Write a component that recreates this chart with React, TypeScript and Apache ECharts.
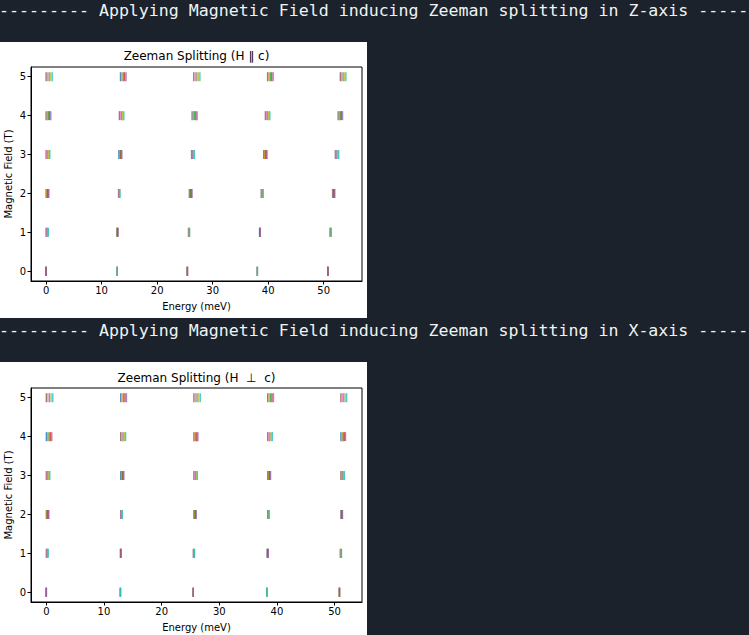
import React, { useEffect, useRef } from "react";
import * as echarts from "echarts";

// ---------- data ----------
const FIELDS_T = [0, 1, 2, 3, 4, 5];
const X_TICKS = [0, 10, 20, 30, 40, 50];
const Y_TICKS = [0, 1, 2, 3, 4, 5];

const HEADER_Z = "--------- Applying Magnetic Field inducing Zeeman splitting in Z-axis -----";
const HEADER_X = "--------- Applying Magnetic Field inducing Zeeman splitting in X-axis -----";
const TITLE_Z = "Zeeman Splitting (H \u2225 c)";
const TITLE_X = "Zeeman Splitting (H  \u22A5  c)";
const X_NAME = "Energy (meV)";
const Y_NAME = "Magnetic Field (T)";

// H || c : energies (meV) of the 25 levels, 5 clusters x 5 lines, per field value
const zAt0T = [
  [0, 0, 0, 0, 0],
  [12.8, 12.8, 12.8, 12.8, 12.8],
  [25.45, 25.45, 25.45, 25.45, 25.45],
  [38.05, 38.05, 38.05, 38.05, 38.05],
  [50.75, 50.75, 50.75, 50.75, 50.75],
];
const zAt1T = [
  [0, 0.1, 0.2, 0.3, 0.4],
  [12.75, 12.8, 12.85, 12.9, 12.95],
  [25.65, 25.7, 25.75, 25.8, 25.85],
  [38.45, 38.48, 38.5, 38.53, 38.56],
  [51.15, 51.2, 51.25, 51.3, 51.35],
];
const zAt2T = [
  [0, 0.12, 0.25, 0.37, 0.5],
  [13.05, 13.12, 13.18, 13.25, 13.3],
  [25.8, 25.95, 26.05, 26.15, 26.3],
  [38.75, 38.85, 38.95, 39.05, 39.1],
  [51.6, 51.7, 51.8, 51.9, 52.0],
];
const zAt3T = [
  [0, 0.17, 0.34, 0.5, 0.66],
  [13.1, 13.25, 13.4, 13.52, 13.65],
  [26.2, 26.35, 26.45, 26.58, 26.7],
  [39.2, 39.35, 39.5, 39.65, 39.8],
  [52.1, 52.25, 52.4, 52.55, 52.7],
];
const zAt4T = [
  [0, 0.2, 0.42, 0.62, 0.84],
  [13.2, 13.42, 13.62, 13.8, 14.0],
  [26.3, 26.52, 26.75, 26.98, 27.2],
  [39.5, 39.7, 39.9, 40.1, 40.3],
  [52.6, 52.8, 53.0, 53.2, 53.4],
];
const zAt5T = [
  [0, 0.27, 0.55, 0.82, 1.1],
  [13.4, 13.65, 13.9, 14.15, 14.4],
  [26.6, 26.88, 27.15, 27.42, 27.7],
  [39.9, 40.15, 40.4, 40.65, 40.9],
  [53.0, 53.25, 53.5, 53.75, 54.0],
];

// H ⊥ c
const xAt0T = [
  [0, 0, 0, 0, 0],
  [12.85, 12.85, 12.85, 12.85, 12.85],
  [25.5, 25.5, 25.5, 25.5, 25.5],
  [38.25, 38.25, 38.25, 38.25, 38.25],
  [50.85, 50.85, 50.85, 50.85, 50.85],
];
const xAt1T = [
  [0, 0.08, 0.16, 0.24, 0.32],
  [12.85, 12.88, 12.9, 12.93, 12.95],
  [25.5, 25.55, 25.6, 25.65, 25.7],
  [38.3, 38.35, 38.4, 38.45, 38.5],
  [51.0, 51.05, 51.1, 51.15, 51.2],
];
const xAt2T = [
  [0, 0.11, 0.22, 0.33, 0.44],
  [12.9, 12.97, 13.04, 13.1, 13.17],
  [25.6, 25.7, 25.8, 25.9, 26.0],
  [38.4, 38.47, 38.54, 38.6, 38.66],
  [51.1, 51.17, 51.24, 51.31, 51.38],
];
const xAt3T = [
  [0, 0.15, 0.3, 0.45, 0.6],
  [12.9, 13.05, 13.2, 13.32, 13.45],
  [25.6, 25.75, 25.9, 26.05, 26.2],
  [38.4, 38.52, 38.65, 38.77, 38.9],
  [51.1, 51.25, 51.4, 51.55, 51.7],
];
const xAt4T = [
  [0, 0.24, 0.48, 0.72, 0.95],
  [12.9, 13.12, 13.33, 13.55, 13.75],
  [25.6, 25.78, 25.95, 26.12, 26.3],
  [38.4, 38.6, 38.8, 39.0, 39.2],
  [51.1, 51.3, 51.5, 51.7, 51.9],
];
const xAt5T = [
  [0, 0.28, 0.56, 0.84, 1.12],
  [12.9, 13.15, 13.4, 13.65, 13.9],
  [25.6, 25.88, 26.15, 26.42, 26.7],
  [38.4, 38.65, 38.9, 39.15, 39.4],
  [51.1, 51.35, 51.6, 51.85, 52.1],
];

const Z_LEVELS = [zAt0T, zAt1T, zAt2T, zAt3T, zAt4T, zAt5T];
const X_LEVELS = [xAt0T, xAt1T, xAt2T, xAt3T, xAt4T, xAt5T];

// ---------- styles ----------
const TAB10 = [
  "#1f77b4", "#ff7f0e", "#2ca02c", "#d62728", "#9467bd",
  "#8c564b", "#e377c2", "#7f7f7f", "#bcbd22", "#17becf",
];
const BG = "#1b222b";
const FONT = "DejaVu Sans";
const MONO = "DejaVu Sans Mono";

function buildPoints(levels: number[][][]) {
  const pts: any[] = [];
  let k = 0;
  levels.forEach((clusters, b) => {
    clusters.forEach((lines) => {
      lines.forEach((e) => {
        pts.push({ value: [e, FIELDS_T[b]], itemStyle: { color: TAB10[k % 10] } });
        k++;
      });
    });
  });
  return pts;
}

function makeXAxis(gridIndex: number, min: number, max: number) {
  return {
    type: "value",
    gridIndex,
    min,
    max,
    name: X_NAME,
    nameLocation: "middle",
    nameGap: 20,
    nameTextStyle: { fontFamily: FONT, fontSize: 10, color: "#000" },
    axisLine: { show: true, onZero: false, lineStyle: { color: "#000", width: 1 } },
    axisTick: { show: true, length: 3.5, customValues: X_TICKS, lineStyle: { color: "#000", width: 1 } },
    axisLabel: { customValues: X_TICKS, margin: 4, fontFamily: FONT, fontSize: 10, color: "#000" },
    splitLine: { show: false },
  };
}

function makeYAxis(gridIndex: number) {
  return {
    type: "value",
    gridIndex,
    min: -0.25,
    max: 5.25,
    name: Y_NAME,
    nameLocation: "middle",
    nameGap: 18,
    nameTextStyle: { fontFamily: FONT, fontSize: 10, color: "#000" },
    axisLine: { show: true, onZero: false, lineStyle: { color: "#000", width: 1 } },
    axisTick: { show: true, length: 3.5, customValues: Y_TICKS, lineStyle: { color: "#000", width: 1 } },
    axisLabel: { customValues: Y_TICKS, margin: 5, fontFamily: FONT, fontSize: 10, color: "#000" },
    splitLine: { show: false },
  };
}

export default function App() {
  const ref = useRef<HTMLDivElement>(null);
  useEffect(() => {
    if (!ref.current) return;
    const chart = echarts.init(ref.current, null, { renderer: "svg" });
    const gridCommon = {
      show: true,
      borderColor: "#000",
      borderWidth: 1,
      backgroundColor: "transparent",
      left: 31,
      width: 331,
      height: 214,
    };
    const headerStyle = (text: string) => ({
      text,
      font: `16.6px "${MONO}"`,
      fill: "#f2f2f2",
      textVerticalAlign: "middle",
      verticalAlign: "middle",
    });
    chart.setOption({
      animation: false,
      backgroundColor: BG,
      title: [
        {
          text: TITLE_Z,
          left: 196.5,
          top: 50,
          textAlign: "center",
          padding: 0,
          textStyle: { fontFamily: FONT, fontSize: 12, fontWeight: "normal", color: "#000" },
        },
        {
          text: TITLE_X,
          left: 196.5,
          top: 371.5,
          textAlign: "center",
          padding: 0,
          textStyle: { fontFamily: FONT, fontSize: 12, fontWeight: "normal", color: "#000" },
        },
      ],
      graphic: [
        { type: "rect", z: -10, silent: true, shape: { x: 0, y: 42, width: 367, height: 276 }, style: { fill: "#fff" } },
        { type: "rect", z: -10, silent: true, shape: { x: 0, y: 362, width: 367, height: 273 }, style: { fill: "#fff" } },
        { type: "text", x: -1, y: 10, silent: true, style: headerStyle(HEADER_Z) },
        { type: "text", x: -1, y: 330, silent: true, style: headerStyle(HEADER_X) },
      ],
      grid: [
        { ...gridCommon, top: 67 },
        { ...gridCommon, top: 388 },
      ],
      xAxis: [makeXAxis(0, -2.72, 56.9), makeXAxis(1, -2.66, 54.76)],
      yAxis: [makeYAxis(0), makeYAxis(1)],
      series: [
        {
          type: "scatter",
          xAxisIndex: 0,
          yAxisIndex: 0,
          symbol: "rect",
          symbolSize: [1.4, 9],
          silent: true,
          data: buildPoints(Z_LEVELS),
        },
        {
          type: "scatter",
          xAxisIndex: 1,
          yAxisIndex: 1,
          symbol: "rect",
          symbolSize: [1.4, 9],
          silent: true,
          data: buildPoints(X_LEVELS),
        },
      ],
    });
    return () => chart.dispose();
  }, []);
  return (
    <div
      ref={ref}
      style={{ position: "fixed", left: 0, top: 0, width: 749, height: 635 }}
    />
  );
}
